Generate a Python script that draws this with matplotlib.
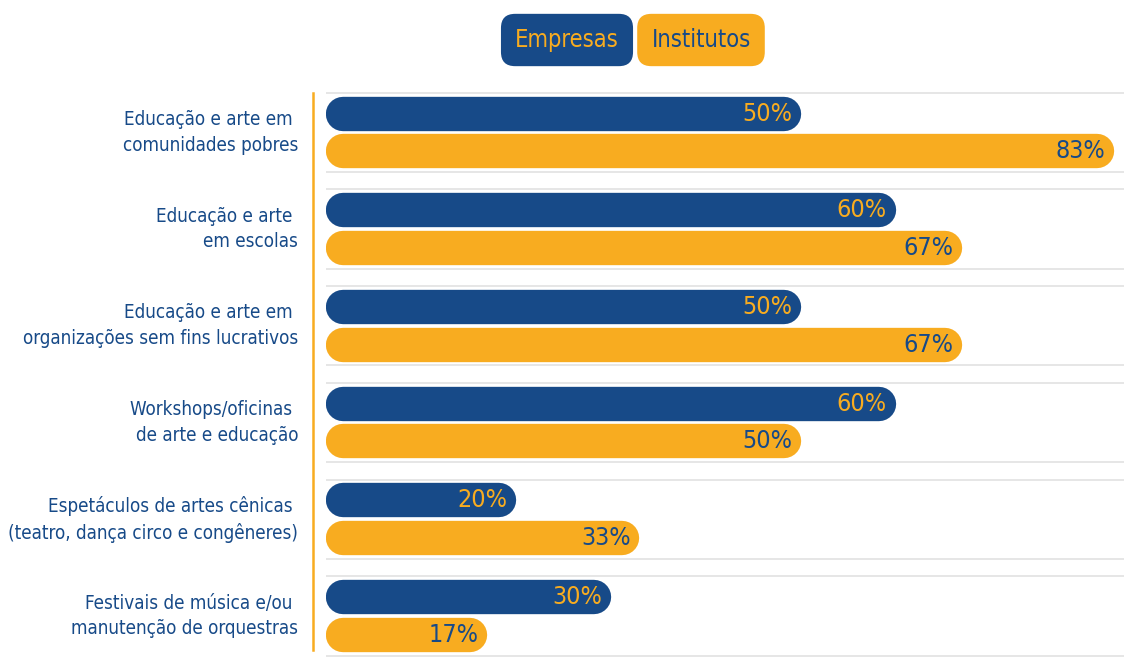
import matplotlib.pyplot as plt
from matplotlib.lines import Line2D

plt.rcParams['font.family'] = ['DejaVu Sans']
plt.rcParams['font.stretch'] = 'condensed'

categories = [
    "Educação e arte em \ncomunidades pobres",
    "Educação e arte \nem escolas",
    "Educação e arte em \norganizações sem fins lucrativos",
    "Workshops/oficinas \nde arte e educação",
    "Espetáculos de artes cênicas \n(teatro, dança circo e congêneres)",
    "Festivais de música e/ou \nmanutenção de orquestras",
]
empresas = [50, 60, 50, 60, 20, 30]
institutos = [83, 67, 67, 50, 33, 17]
series_names = ["Empresas", "Institutos"]

navy = '#174a88'
orange = '#f8ac20'
grid = '#e4e4e4'

W, H = 1124, 658
fig = plt.figure(figsize=(W / 100, H / 100), dpi=100)
ax = fig.add_axes([326 / W, 0, 1 - 326 / W, 1 - 84 / H])
ax.set_xlim(0, 84)
ax.set_ylim(5.434, -0.5)
ax.axis('off')

off = 0.195
bh = 0.355

# pill-shaped bars: thick lines with round caps, cap radius taken off both ends
fig.canvas.draw()
bbox = ax.get_window_extent()
px_per_x = bbox.width / 84
px_per_y = bbox.height / 5.934
bar_px = bh * px_per_y
r_x = bar_px / 2 / px_per_x
lw = bar_px * 72 / fig.dpi


def rbar(y, v, color):
    ax.plot([r_x, v - r_x], [y, y], color=color, lw=lw, solid_capstyle='round')


for i, (cat, e, s) in enumerate(zip(categories, empresas, institutos)):
    for yy in (i - 0.41, i + 0.41):
        ax.plot([0, 84], [yy, yy], color=grid, lw=1.3, solid_capstyle='butt')
    rbar(i - off, e, navy)
    rbar(i + off, s, orange)
    ax.annotate(f"{e}%", xy=(e, i - off), xytext=(-9, 0), textcoords='offset pixels',
                ha='right', va='center', color=orange, fontsize=18)
    ax.annotate(f"{s}%", xy=(s, i + off), xytext=(-9, 0), textcoords='offset pixels',
                ha='right', va='center', color=navy, fontsize=18)
    ax.annotate(cat, xy=(0, i), xytext=(-28, 0), textcoords='offset pixels',
                ha='right', va='center', color=navy, fontsize=13.5,
                linespacing=1.45, annotation_clip=False)

# vertical accent line
fig.add_artist(Line2D([313 / W, 313 / W], [1 - 93 / H, 1 - 650 / H], color=orange, lw=1.8))

# legend boxes
fig.text(567 / W, 1 - 40 / H, series_names[0], ha='center', va='center', fontsize=17,
         color=orange,
         bbox=dict(boxstyle='round,pad=0.6,rounding_size=0.6', fc=navy, ec='none'))
fig.text(701 / W, 1 - 40 / H, series_names[1], ha='center', va='center', fontsize=17,
         color=navy,
         bbox=dict(boxstyle='round,pad=0.6,rounding_size=0.6', fc=orange, ec='none'))

fig.savefig('out.png', dpi=100)
